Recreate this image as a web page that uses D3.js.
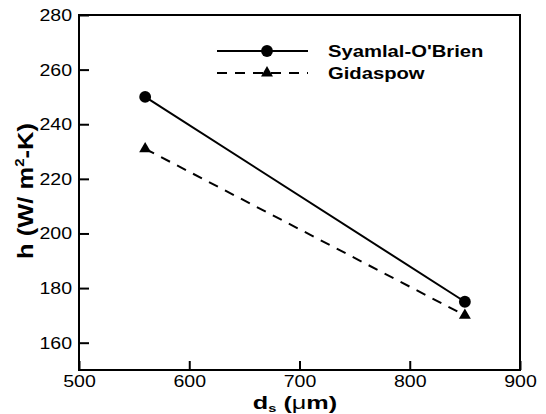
<!DOCTYPE html>
<html>
<head>
<meta charset="utf-8">
<script src="https://cdn.jsdelivr.net/npm/d3@7"></script>
<style>
  html, body { margin: 0; padding: 0; background: #fff; }
  svg { display: block; font-family: "Liberation Sans", Arial, Helvetica, sans-serif; }
</style>
</head>
<body>
<svg id="chart" width="546" height="414"></svg>
<script>
// Particle diameter (µm) vs. heat transfer coefficient for two drag models
const diameters = [560, 850];
const syamlalOBrien = [250, 175];
const gidaspow = [231, 170];
const seriesNames = ["Syamlal-O'Brien", "Gidaspow"];
const xTicks = [500, 600, 700, 800, 900];
const yTicks = [160, 180, 200, 220, 240, 260, 280];

const svg = d3.select("#chart");
const plot = { left: 79, top: 15, right: 520, bottom: 370 };

const x = d3.scaleLinear().domain([500, 900]).range([plot.left, plot.right]);
const y = d3.scaleLinear().domain([150, 280]).range([plot.bottom, plot.top]);

const series = [
  { name: seriesNames[0], values: syamlalOBrien, dash: null, marker: "circle" },
  { name: seriesNames[1], values: gidaspow, dash: "10,8", marker: "triangle" }
];

// Axes with inward ticks
const TX = 1.15; // horizontal stretch of the tick labels
const yAxis = svg.append("g")
  .attr("transform", `translate(${plot.left},0)`)
  .call(d3.axisLeft(y).tickValues(yTicks).tickSizeInner(-10).tickSizeOuter(0).tickPadding(7));
const xAxis = svg.append("g")
  .attr("transform", `translate(0,${plot.bottom})`)
  .call(d3.axisBottom(x).tickValues(xTicks).tickSizeInner(-9).tickSizeOuter(0).tickPadding(5));

[yAxis, xAxis].forEach(g => {
  g.select(".domain").remove();
  g.selectAll(".tick line").attr("stroke", "#000").attr("stroke-width", 2);
  g.selectAll(".tick text")
    .attr("fill", "#000")
    .style("font-size", "17px")
    .style("font-family", "'Liberation Sans', Arial, sans-serif");
});
yAxis.selectAll(".tick text")
  .attr("x", -7 / TX)
  .attr("transform", `scale(${TX},1)`);
xAxis.selectAll(".tick text")
  .attr("transform", `scale(${TX},1)`);

// Frame
svg.append("rect")
  .attr("x", plot.left).attr("y", plot.top)
  .attr("width", plot.right - plot.left).attr("height", plot.bottom - plot.top)
  .attr("fill", "none").attr("stroke", "#000").attr("stroke-width", 2);

// Lines
const line = d3.line().x((d, i) => x(diameters[i])).y(d => y(d));
const circleSym = d3.symbol(d3.symbolCircle, 110);
const triSym = d3.symbol(d3.symbolTriangle, 62);

series.forEach(s => {
  svg.append("path")
    .datum(s.values)
    .attr("d", line)
    .attr("fill", "none")
    .attr("stroke", "#000")
    .attr("stroke-width", 2)
    .attr("stroke-dasharray", s.dash);
  svg.selectAll(null)
    .data(s.values)
    .join("path")
    .attr("d", s.marker === "circle" ? circleSym : triSym)
    .attr("transform", (d, i) => `translate(${x(diameters[i])},${y(d)})`)
    .attr("fill", "#000");
});

// Legend
const legend = svg.append("g").attr("transform", "translate(217,51)");
series.forEach((s, i) => {
  const row = legend.append("g").attr("transform", `translate(0,${i * 22})`);
  row.append("line")
    .attr("x1", 0).attr("x2", 91).attr("y1", 0).attr("y2", 0)
    .attr("stroke", "#000").attr("stroke-width", 2)
    .attr("stroke-dasharray", s.dash);
  row.append("path")
    .attr("d", s.marker === "circle" ? circleSym : triSym)
    .attr("transform", "translate(50,0)")
    .attr("fill", "#000");
  row.append("text")
    .attr("transform", "translate(111,6) scale(1.19,1)")
    .style("font-size", "17px")
    .style("font-weight", "bold")
    .text(s.name);
});

// X axis title: d_s (µm)
const xt = svg.append("text")
  .attr("transform", "translate(295,409) scale(1.33,1)")
  .attr("text-anchor", "middle")
  .style("font-size", "19px")
  .style("font-weight", "bold");
xt.append("tspan").text("d");
xt.append("tspan").attr("dy", 3).style("font-size", "11px").text("s");
xt.append("tspan").attr("dy", -3).text(" (");
xt.append("tspan").style("font-weight", "normal").text("\u03bc");
xt.append("tspan").text("m)");

// Y axis title: h (W/ m²-K)
const yt = svg.append("text")
  .attr("transform", "translate(33,191) rotate(-90) scale(1.16,1)")
  .attr("text-anchor", "middle")
  .style("font-size", "22px")
  .style("font-weight", "bold");
yt.append("tspan").text("h (W/ m");
yt.append("tspan").attr("dy", -9).style("font-size", "13px").text("2");
yt.append("tspan").attr("dy", 9).text("-K)");
</script>
</body>
</html>
